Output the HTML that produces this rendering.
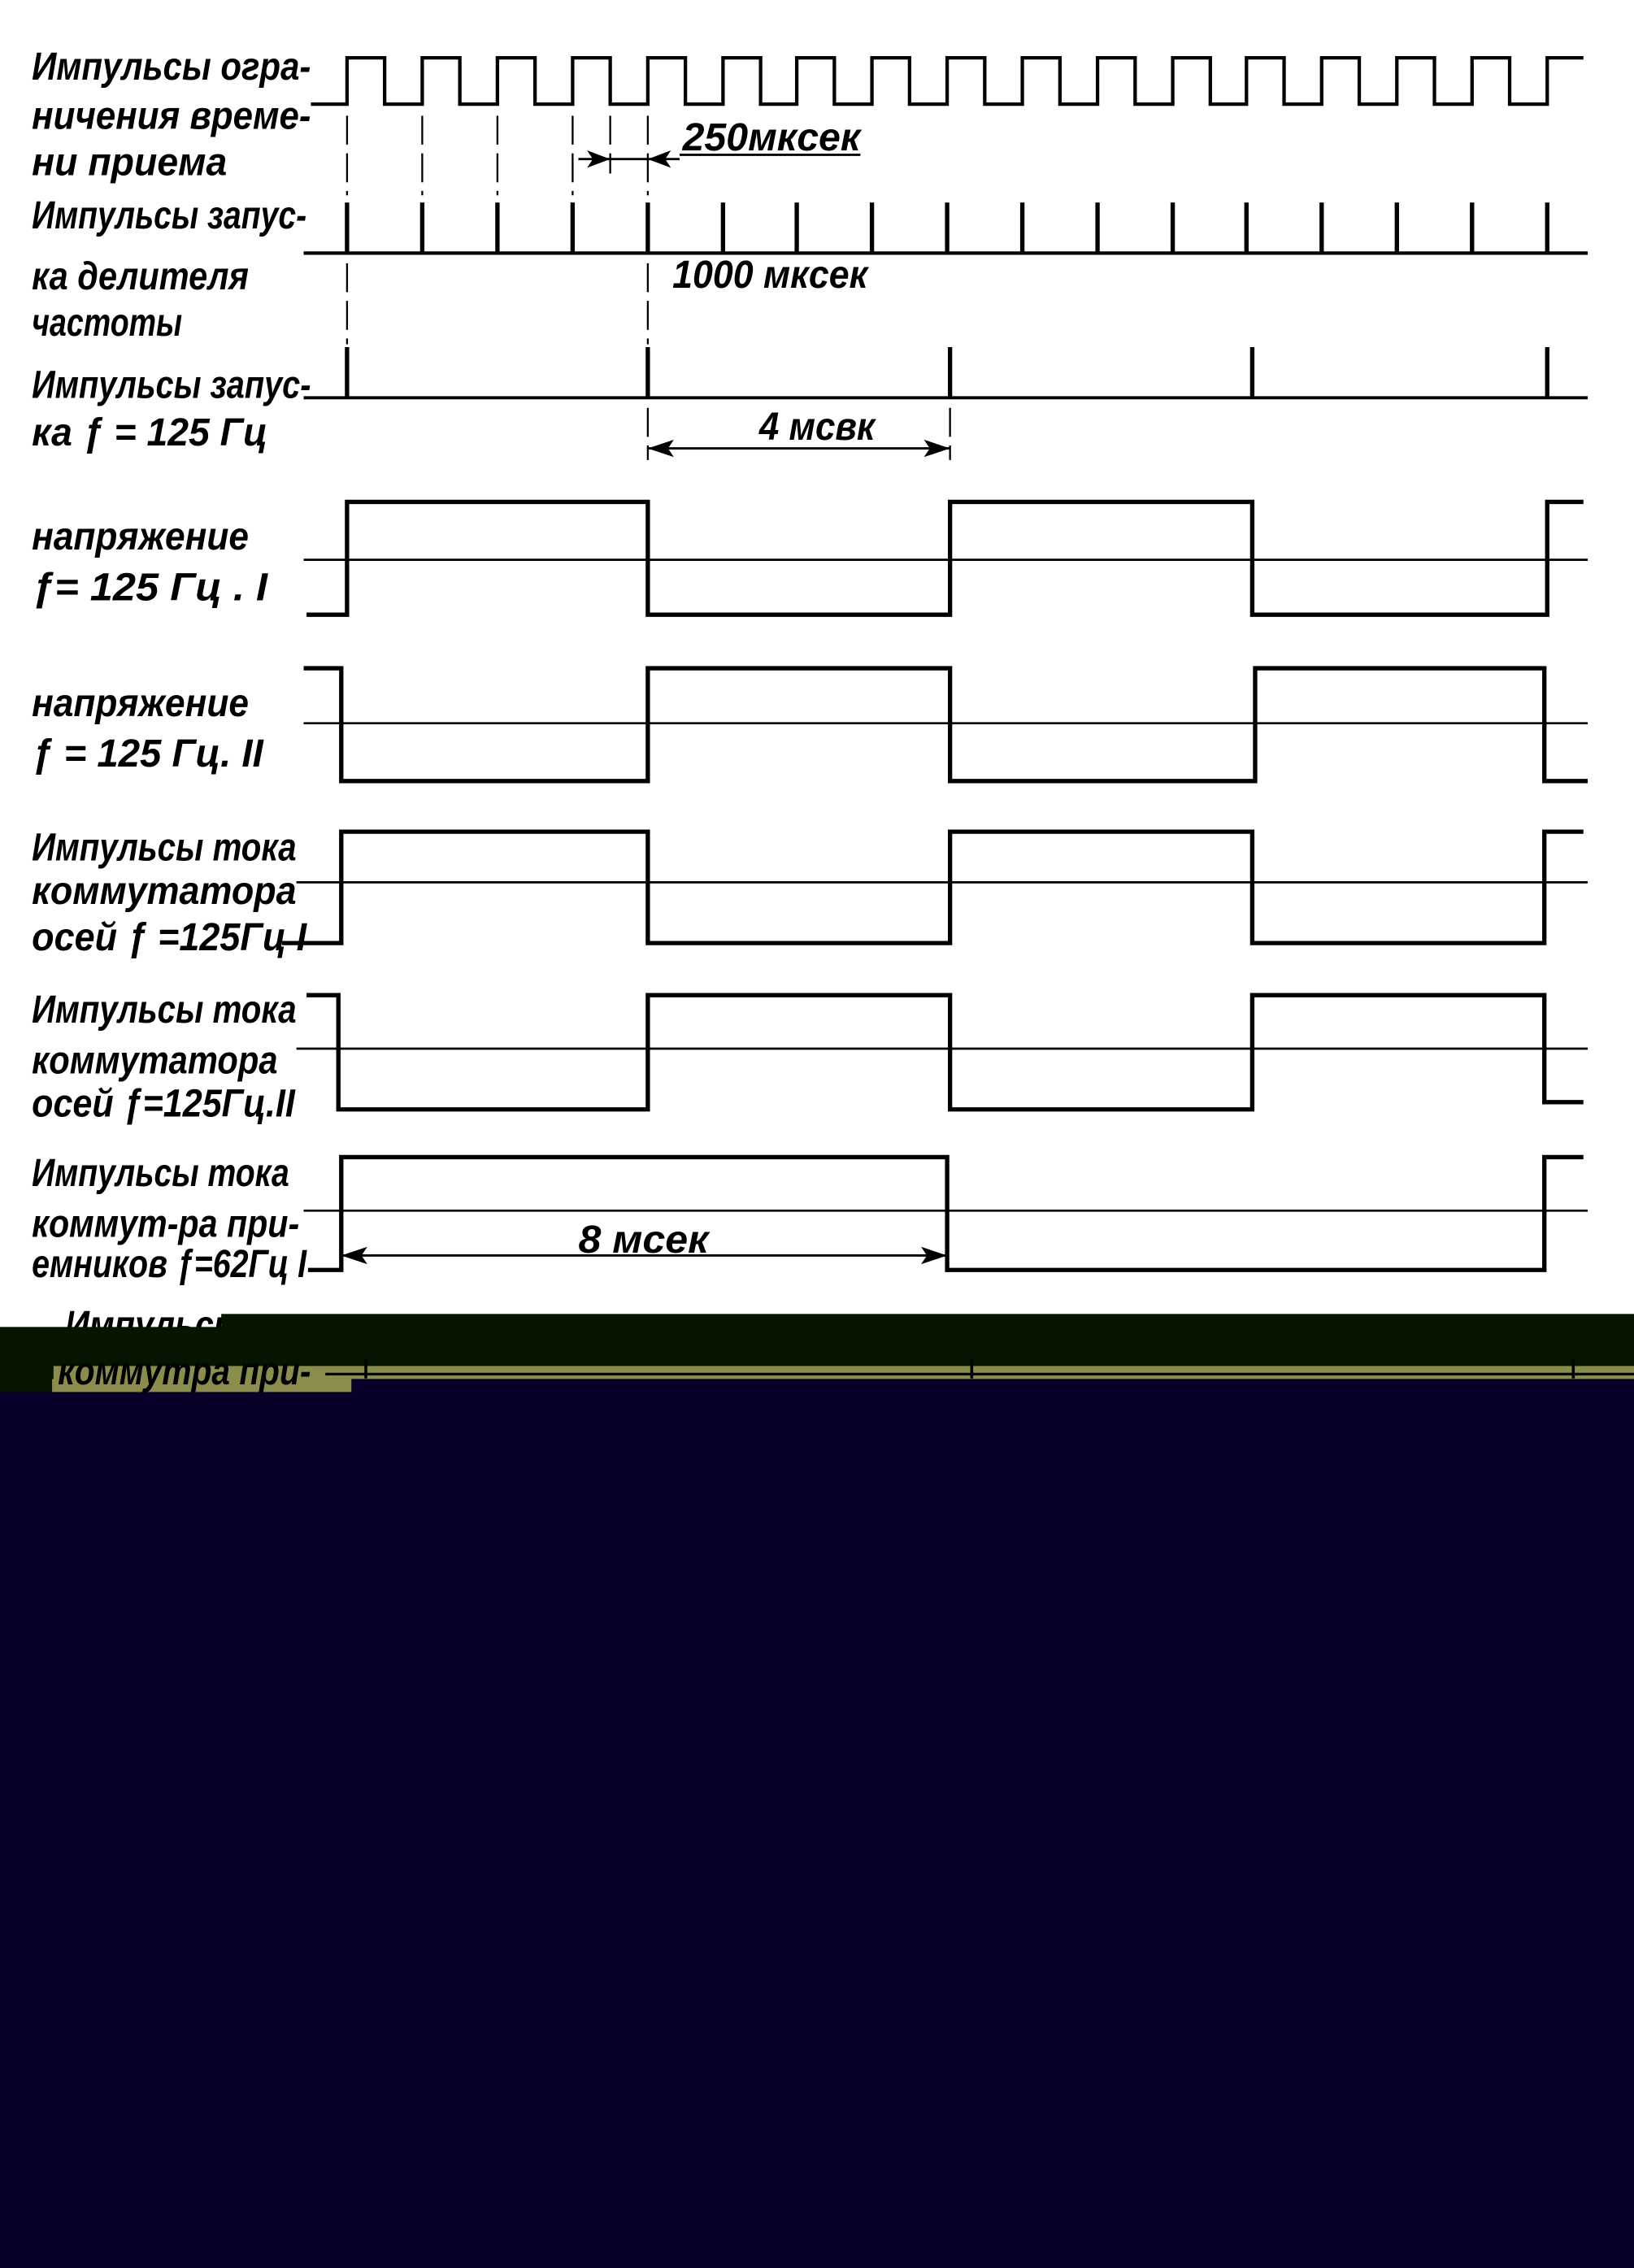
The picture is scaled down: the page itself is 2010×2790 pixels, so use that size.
<!DOCTYPE html>
<html><head><meta charset="utf-8"><style>
html,body{margin:0;padding:0;background:#fff;}
svg{display:block;}
text{font-family:"Liberation Sans",sans-serif;font-style:italic;font-weight:bold;font-size:27px;fill:#000;}
</style></head><body>
<svg width="2010" height="2790" viewBox="0 0 1130 1568" preserveAspectRatio="none" xmlns="http://www.w3.org/2000/svg">
<rect width="1130" height="1568" fill="#fff"/>
<g fill="none" stroke="#000" stroke-width="2.4" stroke-linejoin="miter">
<path d="M215,72 H240 V40 H266 V72 H292 V40 H318 V72 H344 V40 H370 V72 H396 V40 H422 V72 H448 V40 H474 V72 H500 V40 H526 V72 H551 V40 H577 V72 H603 V40 H629 V72 H655 V40 H681 V72 H707 V40 H733 V72 H759 V40 H785 V72 H811 V40 H837 V72 H862 V40 H888 V72 H914 V40 H940 V72 H966 V40 H992 V72 H1018 V40 H1044 V72 H1070 V40 H1095"/>
<path d="M210,175 H1098" stroke-width="2.4"/>
<path d="M240,140V175 M292,140V175 M344,140V175 M396,140V175 M448,140V175 M500,140V175 M551,140V175 M603,140V175 M655,140V175 M707,140V175 M759,140V175 M811,140V175 M862,140V175 M914,140V175 M966,140V175 M1018,140V175 M1070,140V175" stroke-width="3"/>
<path d="M210,275 H1098" stroke-width="2.2"/>
<path d="M240,240V275 M448,240V275 M657,240V275 M866,240V275 M1070,240V275" stroke-width="3"/>
<path d="M210,387 H1098" stroke-width="1.5"/>
<path d="M212,425 H240 V347 H448 V425 H657 V347 H866 V425 H1070 V347 H1095" stroke-width="3"/>
<path d="M210,500 H1098" stroke-width="1.5"/>
<path d="M210,462 H236 V540 H448 V462 H657 V540 H868 V462 H1068 V540 H1098" stroke-width="3"/>
<path d="M205,610 H1098" stroke-width="1.5"/>
<path d="M195,652 H236 V575 H448 V652 H657 V575 H866 V652 H1068 V575 H1095" stroke-width="3"/>
<path d="M205,725 H1098" stroke-width="1.5"/>
<path d="M212,688 H234 V767 H448 V688 H657 V767 H866 V688 H1068 V762 H1095" stroke-width="3"/>
<path d="M210,837 H1098" stroke-width="1.5"/>
<path d="M213,878 H236 V800 H655 V878 H1068 V800 H1095" stroke-width="3"/>
</g>
<g stroke="#000" stroke-width="1.3" stroke-dasharray="20,6" fill="none">
<path d="M240,80V135 M292,80V135 M344,80V135 M396,80V135 M422,80V120 M448,80V135"/>
<path d="M240,182V238 M448,182V238 M448,282V318 M657,282V318"/>
</g>
<g stroke="#000" stroke-width="1.6" fill="none">
<path d="M400,110 H470"/>
<path d="M470,107 H595"/>
<path d="M448,310 H657"/>
<path d="M236,868 H655"/>
</g>
<g fill="#000">
<path d="M422,110 L406,104 L410,110 L406,116 Z"/>
<path d="M448,110 L464,104 L460,110 L464,116 Z"/>
<path d="M448,310 L466,304 L462,310 L466,316 Z"/>
<path d="M657,310 L639,304 L643,310 L639,316 Z"/>
<path d="M236,868 L254,862 L250,868 L254,874 Z"/>
<path d="M655,868 L637,862 L641,868 L637,874 Z"/>
</g>
<text x="22" y="55" textLength="193" lengthAdjust="spacingAndGlyphs">Импульсы огра-</text>
<text x="22" y="89" textLength="193" lengthAdjust="spacingAndGlyphs">ничения време-</text>
<text x="22" y="121" textLength="135" lengthAdjust="spacingAndGlyphs">ни приема</text>
<text x="472" y="104" textLength="123" lengthAdjust="spacingAndGlyphs">250мксек</text>
<text x="22" y="158" textLength="190" lengthAdjust="spacingAndGlyphs">Импульсы запус-</text>
<text x="22" y="200" textLength="150" lengthAdjust="spacingAndGlyphs">ка делителя</text>
<text x="22" y="232" textLength="104" lengthAdjust="spacingAndGlyphs">частоты</text>
<text x="465" y="199" textLength="135" lengthAdjust="spacingAndGlyphs">1000 мксек</text>
<text x="22" y="275" textLength="193" lengthAdjust="spacingAndGlyphs">Импульсы запус-</text>
<text x="22" y="308" textLength="163" lengthAdjust="spacingAndGlyphs">ка  ƒ = 125 Гц</text>
<text x="525" y="304" textLength="80" lengthAdjust="spacingAndGlyphs">4 мсвк</text>
<text x="22" y="380" textLength="150" lengthAdjust="spacingAndGlyphs">напряжение</text>
<text x="22" y="415" textLength="163" lengthAdjust="spacingAndGlyphs">ƒ= 125 Гц . I</text>
<text x="22" y="495" textLength="150" lengthAdjust="spacingAndGlyphs">напряжение</text>
<text x="22" y="530" textLength="160" lengthAdjust="spacingAndGlyphs">ƒ = 125 Гц. II</text>
<text x="22" y="595" textLength="183" lengthAdjust="spacingAndGlyphs">Импульсы тока</text>
<text x="22" y="625" textLength="183" lengthAdjust="spacingAndGlyphs">коммутатора</text>
<text x="22" y="657" textLength="190" lengthAdjust="spacingAndGlyphs">осей  ƒ =125Гц I</text>
<text x="22" y="707" textLength="183" lengthAdjust="spacingAndGlyphs">Импульсы тока</text>
<text x="22" y="742" textLength="170" lengthAdjust="spacingAndGlyphs">коммутатора</text>
<text x="22" y="772" textLength="182" lengthAdjust="spacingAndGlyphs">осей ƒ=125Гц.II</text>
<text x="22" y="820" textLength="178" lengthAdjust="spacingAndGlyphs">Импульсы тока</text>
<text x="22" y="855" textLength="185" lengthAdjust="spacingAndGlyphs">коммут-ра при-</text>
<text x="22" y="883" textLength="190" lengthAdjust="spacingAndGlyphs">емников ƒ=62Гц I</text>
<text x="400" y="866" textLength="90" lengthAdjust="spacingAndGlyphs">8 мсек</text>
<text x="45" y="925" textLength="150" lengthAdjust="spacingAndGlyphs">Импульсы т</text>
<rect x="153" y="908.4" width="977" height="37" fill="#061500"/>
<rect x="0" y="917.4" width="154" height="28" fill="#061500"/>
<rect x="36" y="944.4" width="1094" height="10" fill="#8c8c4c"/>
<rect x="0" y="944.4" width="37" height="19" fill="#061500"/>
<rect x="36" y="953.4" width="208" height="10" fill="#8c8c4c"/>
<text x="40" y="957" textLength="175" lengthAdjust="spacingAndGlyphs">коммутра при-</text>
<path d="M225,950 H1130" stroke="#000" stroke-width="1.8"/>
<path d="M253,940V953 M672,940V953 M1088,940V953" stroke="#000" stroke-width="2"/>
<path d="M0,962.4 H243 V953.4 H1130 V1568 H0 Z" fill="#08002a"/>
</svg>
</body></html>
